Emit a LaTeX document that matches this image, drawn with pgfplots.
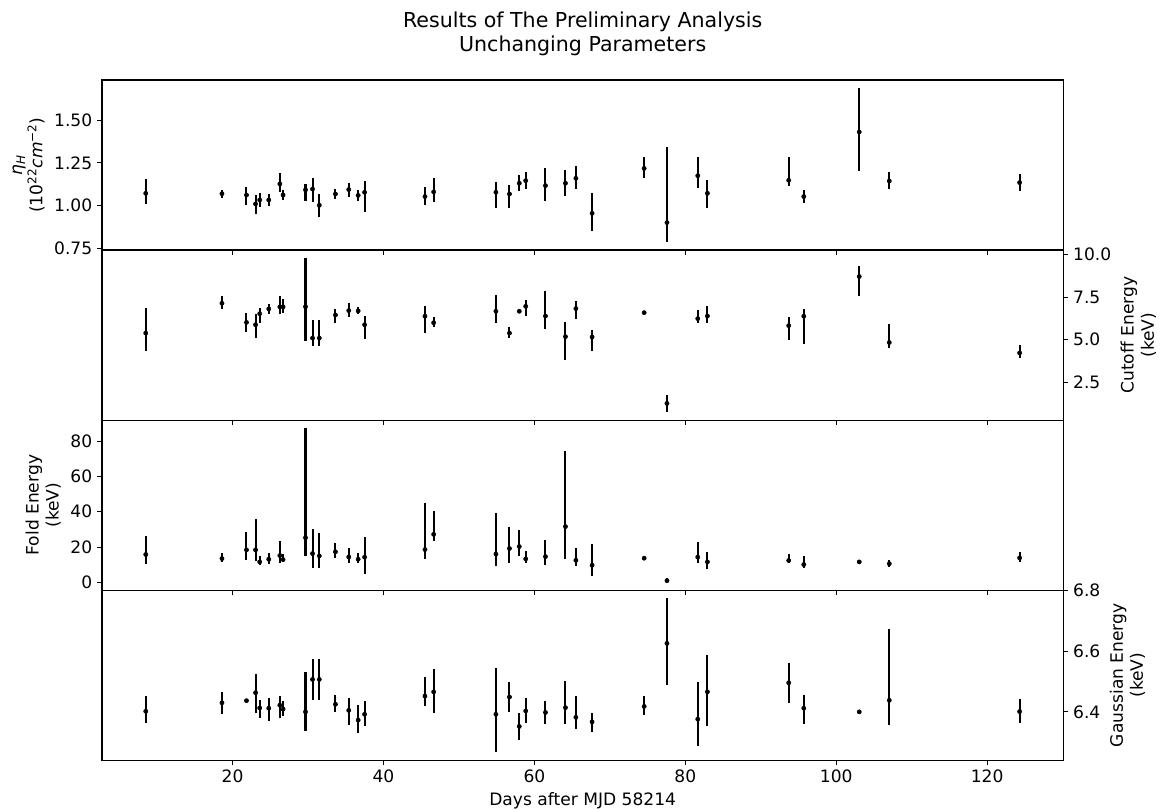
\documentclass[border=0pt]{standalone}
\usepackage{fontspec}
\setmainfont{DejaVu Sans}
\usepackage{pgfplots}
\pgfplotsset{compat=1.18}
\usepackage{pgfplotstable}

% columns: day, value, lower end of error bar, upper end of error bar
\pgfplotstableread{
x y lo hi
8.5 1.072 1.010 1.156
18.6 1.070 1.043 1.092
21.85 1.062 1.006 1.107
23.05 1.010 0.951 1.064
23.6 1.033 0.994 1.072
24.8 1.033 0.998 1.068
26.27 1.127 1.080 1.189
26.7 1.062 1.033 1.092
29.67 1.092 1.029 1.127
30.6 1.097 1.023 1.164
31.5 1.002 0.932 1.070
33.64 1.068 1.037 1.097
35.4 1.094 1.053 1.134
36.65 1.060 1.029 1.094
37.5 1.078 0.965 1.144
45.5 1.053 1.002 1.111
46.65 1.080 1.023 1.164
54.9 1.078 0.988 1.136
56.7 1.068 0.988 1.123
58.0 1.131 1.086 1.179
58.85 1.146 1.096 1.195
61.47 1.117 1.025 1.218
64.12 1.131 1.058 1.209
65.5 1.160 1.097 1.234
67.65 0.955 0.850 1.072
74.55 1.218 1.160 1.286
77.57 0.901 0.785 1.343
81.65 1.175 1.103 1.287
82.93 1.072 0.988 1.148
93.7 1.148 1.113 1.283
95.7 1.053 1.014 1.090
103.05 1.431 1.205 1.690
107.03 1.144 1.096 1.199
124.3 1.135 1.084 1.187
}\nhtab

\pgfplotstableread{
x y lo hi
8.5 5.39 4.37 6.85
18.6 7.14 6.83 7.55
21.85 6.02 5.47 6.57
23.05 5.88 5.12 6.49
23.6 6.53 5.98 6.85
24.8 6.81 6.51 7.10
26.27 6.93 6.51 7.57
26.7 6.93 6.57 7.38
29.67 6.94 4.90 9.81
30.6 5.10 4.61 6.14
31.5 5.10 4.61 6.14
33.64 6.45 6.00 6.79
35.4 6.71 6.34 7.18
36.65 6.69 6.51 6.93
37.5 5.88 5.06 6.41
45.5 6.38 5.39 6.96
46.65 6.00 5.75 6.34
54.9 6.67 6.00 7.63
56.7 5.39 5.08 5.73
58.0 6.67 6.67 6.67
58.85 6.96 6.41 7.34
61.47 6.39 5.61 7.85
64.12 5.18 3.80 6.02
65.5 6.83 6.22 7.26
67.65 5.16 4.33 5.55
74.55 6.59 6.59 6.59
77.57 1.27 0.74 1.78
81.65 6.24 5.98 6.73
82.93 6.39 5.96 6.96
93.7 5.83 4.98 6.36
95.7 6.38 4.78 6.79
103.05 8.71 7.57 9.30
107.03 4.84 4.49 5.92
124.3 4.23 3.94 4.69
}\cotab

\pgfplotstableread{
x y lo hi
8.5 15.8 10.6 26.2
18.6 13.5 11.4 16.7
21.85 18.4 12.9 28.7
23.05 18.4 12.2 35.7
23.6 11.6 9.9 14.8
24.8 13.1 10.6 16.9
26.27 15.2 11.0 23.2
26.7 12.9 11.4 16.0
29.67 25.3 14.8 87.5
30.6 16.3 8.4 30.2
31.5 15.0 8.2 28.1
33.64 17.3 13.9 22.4
35.4 14.4 11.2 19.6
36.65 13.1 11.0 16.7
37.5 14.3 4.6 25.5
45.5 18.6 13.1 44.9
46.65 27.2 23.6 40.7
54.9 16.0 9.3 39.4
56.7 19.2 11.0 31.4
58.0 20.3 15.2 29.7
58.85 13.3 11.0 17.9
61.47 14.6 9.7 24.0
64.12 31.6 13.5 74.5
65.5 12.5 9.5 19.2
67.65 9.7 3.4 21.9
74.55 13.7 13.7 13.7
77.57 0.95 0.1 2.3
81.65 14.3 11.0 23.0
82.93 11.6 7.8 17.3
93.7 12.4 11.0 15.8
95.7 10.1 8.4 15.0
103.05 11.6 11.6 11.6
107.03 10.6 8.9 12.5
124.3 13.9 11.6 17.3
}\fotab

\pgfplotstableread{
x y lo hi
8.5 6.402 6.364 6.452
18.6 6.430 6.392 6.465
21.85 6.437 6.437 6.437
23.05 6.463 6.395 6.526
23.6 6.413 6.381 6.438
24.8 6.412 6.369 6.445
26.27 6.422 6.381 6.453
26.7 6.409 6.388 6.435
29.67 6.400 6.336 6.532
30.6 6.507 6.438 6.575
31.5 6.507 6.438 6.575
33.64 6.425 6.398 6.454
35.4 6.405 6.356 6.445
36.65 6.373 6.329 6.422
37.5 6.392 6.352 6.435
45.5 6.452 6.420 6.516
46.65 6.466 6.395 6.541
54.9 6.392 6.266 6.546
56.7 6.449 6.400 6.498
58.0 6.352 6.308 6.395
58.85 6.403 6.362 6.447
61.47 6.398 6.359 6.436
64.12 6.414 6.359 6.502
65.5 6.382 6.345 6.453
67.65 6.367 6.335 6.397
74.55 6.418 6.390 6.453
77.57 6.626 6.488 6.776
81.65 6.376 6.287 6.498
82.93 6.466 6.352 6.588
93.7 6.496 6.430 6.562
95.7 6.412 6.359 6.456
103.05 6.400 6.400 6.400
107.03 6.438 6.357 6.673
124.3 6.401 6.363 6.442
}\gatab

\pgfplotsset{
  panel/.style={
    scale only axis, width=692pt, height=122.4pt,
    xmin=2.7, xmax=130.1,
    xtick={20,40,60,80,100,120},
    tick align=outside, xtick pos=left,
    major tick length=3.5pt,
    every tick/.style={black, line width=0.8pt},
    axis line style={line width=0.8pt},
    tick label style={font=\fontsize{12.3}{14.5}\selectfont},
    label style={font=\fontsize{12.3}{14.5}\selectfont, align=center},
    /pgf/number format/assume math mode=true,
    anchor=south west,
  },
  pts/.style={only marks, mark=*, mark size=1.5pt, black,
    mark options={draw=black, fill=black},
    error bars/.cd, y dir=both, y explicit, error mark=none,
    error bar style={line width=1.45pt, black}},
}

\begin{document}
\begin{tikzpicture}
\useasboundingbox (0,0) rectangle (840pt,582.5pt);
\node[align=center, font=\fontsize{14.8}{17.3}\selectfont] at (419.4pt,558.4pt)
  {Results of The Preliminary Analysis\\Unchanging Parameters};

% panel 1
\begin{axis}[panel, at={(73.4pt,402.5pt)},
  ymin=0.740, ymax=1.735, ytick={0.75,1.00,1.25,1.50}, ytick pos=left,
  yticklabel style={/pgf/number format/.cd, fixed, fixed zerofill, precision=2},
  xticklabels={},
  ylabel={{\itshape η}\textsubscript{\itshape H}\\(10\textsuperscript{22}\textit{cm}\textsuperscript{−2})}]
\addplot[pts] table[x=x, y=y, y error plus expr=\thisrow{hi}-\thisrow{y}, y error minus expr=\thisrow{y}-\thisrow{lo}] {\nhtab};
\end{axis}

% panel 2
\begin{axis}[panel, at={(73.4pt,280.1pt)},
  ymin=0.29, ymax=10.26, ytick={2.5,5,7.5,10}, ytick pos=right, yticklabel pos=right,
  yticklabel style={/pgf/number format/.cd, fixed, fixed zerofill, precision=1},
  xticklabels={},
  ylabel={Cutoff Energy\\(keV)}]
\addplot[pts] table[x=x, y=y, y error plus expr=\thisrow{hi}-\thisrow{y}, y error minus expr=\thisrow{y}-\thisrow{lo}] {\cotab};
\end{axis}

% panel 3
\begin{axis}[panel, at={(73.4pt,157.7pt)},
  ymin=-4.4, ymax=91.9, ytick={0,20,40,60,80}, ytick pos=left,
  xticklabels={},
  ylabel={Fold Energy\\(keV)}]
\addplot[pts] table[x=x, y=y, y error plus expr=\thisrow{hi}-\thisrow{y}, y error minus expr=\thisrow{y}-\thisrow{lo}] {\fotab};
\end{axis}

% panel 4
\begin{axis}[panel, at={(73.4pt,35.3pt)},
  ymin=6.2405, ymax=6.8015, ytick={6.4,6.6,6.8}, ytick pos=right, yticklabel pos=right,
  yticklabel style={/pgf/number format/.cd, fixed, fixed zerofill, precision=1},
  xlabel={Days after MJD 58214},
  ylabel={Gaussian Energy\\(keV)}]
\addplot[pts] table[x=x, y=y, y error plus expr=\thisrow{hi}-\thisrow{y}, y error minus expr=\thisrow{y}-\thisrow{lo}] {\gatab};
\end{axis}
\end{tikzpicture}
\end{document}
